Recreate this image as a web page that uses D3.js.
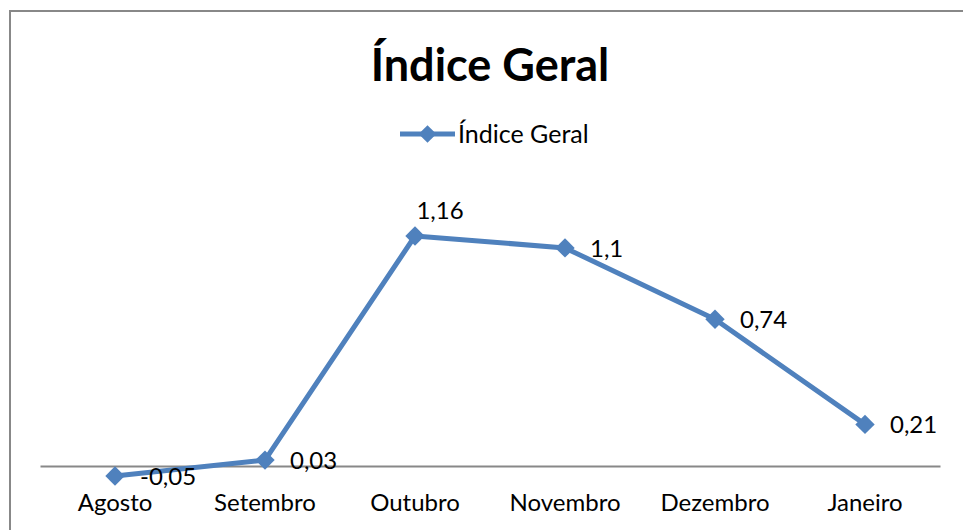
<!DOCTYPE html>
<html>
<head>
<meta charset="utf-8">
<script src="https://cdn.jsdelivr.net/npm/d3@7"></script>
<style>
  body { margin: 0; background: #fff; }
  text { font-family: Lato, "Open Sans", sans-serif; fill: #000; }
</style>
</head>
<body>
<div id="chart"></div>
<script>
// data
var months = ['Agosto', 'Setembro', 'Outubro', 'Novembro', 'Dezembro', 'Janeiro'];
var values = [-0.05, 0.03, 1.16, 1.1, 0.74, 0.21];
var valueLabels = ['-0,05', '0,03', '1,16', '1,1', '0,74', '0,21'];
var seriesName = 'Índice Geral';

var width = 963, height = 530;
var color = '#4f81bd';

var svg = d3.select('#chart').append('svg')
  .attr('width', width)
  .attr('height', height);

// chart border (runs off right/bottom edge)
svg.append('rect')
  .attr('x', 10).attr('y', 11)
  .attr('width', 980).attr('height', 560)
  .attr('fill', 'none')
  .attr('stroke', '#888')
  .attr('stroke-width', 2);

// title
svg.append('text')
  .attr('x', 490).attr('y', 81)
  .attr('text-anchor', 'middle')
  .style('font-size', '45px')
  .style('font-weight', 'bold')
  .text(seriesName);

// legend
var legend = svg.append('g').attr('transform', 'translate(400,134)');
legend.append('line')
  .attr('x1', 0).attr('x2', 55)
  .attr('stroke', color).attr('stroke-width', 5);
legend.append('path')
  .attr('transform', 'translate(27.5,0)')
  .attr('d', d3.symbol(d3.symbolDiamond2, 200)())
  .attr('fill', color);
legend.append('text')
  .attr('x', 58).attr('y', 9)
  .style('font-size', '25px')
  .text(seriesName);

// scales
var x = d3.scaleBand()
  .domain(months)
  .range([40, 940]);

var y = d3.scaleLinear()
  .domain([-0.2, 1.4])
  .range([505.7, 188.4]);

// category axis at zero
var xAxis = svg.append('g')
  .attr('transform', 'translate(0,' + y(0) + ')')
  .call(d3.axisBottom(x).tickSize(0).tickPadding(0));
xAxis.select('.domain')
  .attr('stroke', '#888')
  .attr('stroke-width', 2);
xAxis.selectAll('.tick text')
  .attr('y', 45)
  .attr('dy', 0)
  .style('font-size', '24px')
  .style('font-family', 'Lato, "Open Sans", sans-serif')
  .attr('fill', '#000');

var cx = function(d, i) { return x(months[i]) + x.bandwidth() / 2; };

// line
var line = d3.line()
  .x(function(d, i) { return cx(d, i); })
  .y(function(d) { return y(d); });

svg.append('path')
  .datum(values)
  .attr('d', line)
  .attr('fill', 'none')
  .attr('stroke', color)
  .attr('stroke-width', 5)
  .attr('stroke-linejoin', 'round');

// markers
svg.selectAll('.marker')
  .data(values)
  .enter()
  .append('path')
  .attr('class', 'marker')
  .attr('transform', function(d, i) { return 'translate(' + cx(d, i) + ',' + y(d) + ')'; })
  .attr('d', d3.symbol(d3.symbolDiamond2, 240)())
  .attr('fill', color);

// data labels (Outubro sits above, the rest to the right)
svg.selectAll('.lbl')
  .data(values)
  .enter()
  .append('text')
  .attr('class', 'lbl')
  .attr('x', function(d, i) { return i === 2 ? cx(d, i) + 25 : cx(d, i) + 25; })
  .attr('y', function(d, i) { return i === 2 ? y(d) - 17 : y(d) + 9; })
  .attr('text-anchor', function(d, i) { return i === 2 ? 'middle' : 'start'; })
  .style('font-size', '24px')
  .text(function(d, i) { return valueLabels[i]; });
</script>
</body>
</html>
